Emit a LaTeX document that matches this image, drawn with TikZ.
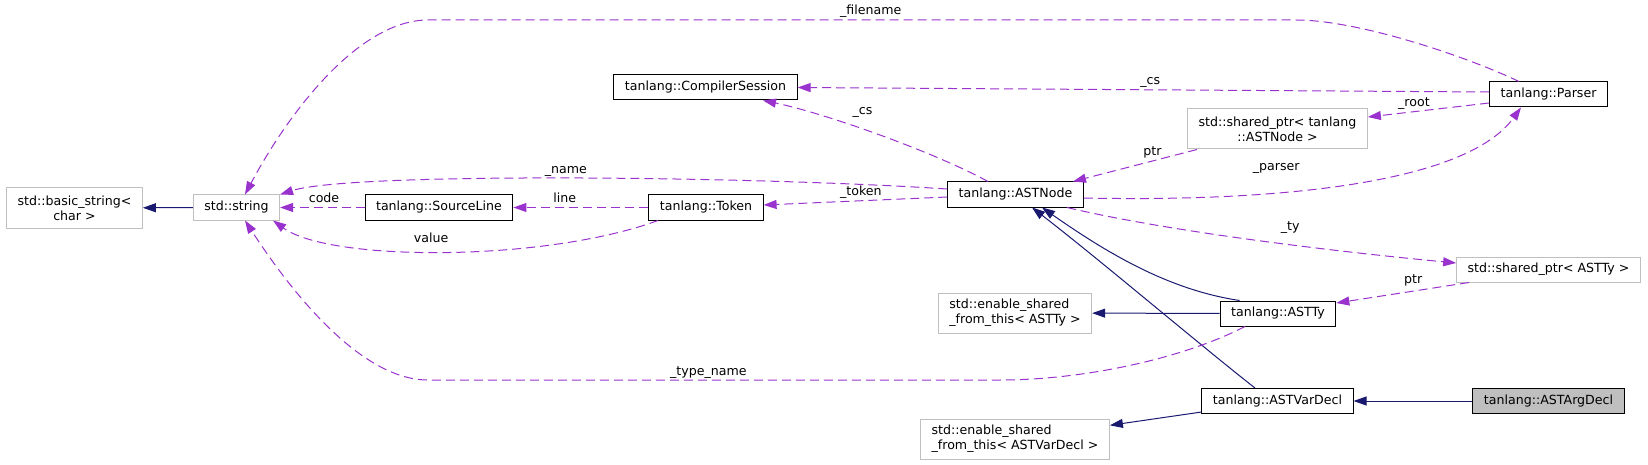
\documentclass[tikz,border=0pt]{standalone}
\usepackage{fontspec}
\setmainfont{DejaVu Sans}
\usetikzlibrary{arrows.meta}
\definecolor{edgepurple}{HTML}{9A32CD}
\definecolor{edgenavy}{HTML}{191970}
\definecolor{lightframe}{HTML}{BFBFBF}

\begin{document}
\begin{tikzpicture}[x=1pt,y=-1pt,>={Triangle[length=13pt,width=9pt]},
        font=\fontsize{12.6}{15}\selectfont,
        cls/.style={draw=black, line width=1pt, fill=white, inner xsep=11pt, inner ysep=0pt, minimum height=25pt},
        ext/.style={cls, draw=lightframe},
        twoline/.style={minimum height=40pt},
        dep/.style={->, draw=edgepurple, line width=1pt, dash pattern=on 9pt off 5pt},
        inh/.style={->, draw=edgenavy, line width=1pt},
        lbl/.style={inner sep=2pt, text height=9pt, text depth=2.5pt}]
        \useasboundingbox (0,0) rectangle (1648,465);

        \node (basicstring) [ext, twoline, align=center] at (74.5,208) {std::basic\_string<\\char >};
        \node (stdstring) [ext] at (236.5,207.5) {std::string};
        \node (sourceline) [cls] at (439,207.5) {tanlang::SourceLine};
        \node (token) [cls] at (706,207.5) {tanlang::Token};
        \node (session) [cls] at (705.5,87.5) {tanlang::CompilerSession};
        \node (astnode) [cls] at (1015.5,194.5) {tanlang::ASTNode};
        \node (parser) [cls] at (1548.5,94.5) {tanlang::Parser};
        \node (rootptr) [ext, twoline, align=center] at (1277.5,129) {std::shared\_ptr< tanlang\\::ASTNode >};
        \node (typtr) [ext] at (1548.5,269.5) {std::shared\_ptr< ASTTy >};
        \node (astty) [cls] at (1278,313.5) {tanlang::ASTTy};
        \node (enablety) [ext, twoline, align=left] at (1015,313) {std::enable\_shared\\\_from\_this< ASTTy >};
        \node (vardecl) [cls] at (1277.5,401) {tanlang::ASTVarDecl};
        \node (argdecl) [cls, fill=lightframe] at (1548.5,401) {tanlang::ASTArgDecl};
        \node (enablevd) [ext, twoline, align=left] at (1015,439) {std::enable\_shared\\\_from\_this< ASTVarDecl >};

        \draw[inh] (stdstring) -- (basicstring);
        \draw[inh] (astty) -- (enablety);
        \draw[inh] (argdecl) -- (vardecl);
        \draw[inh] (vardecl) -- (enablevd);
        \draw[inh] ([xshift=-38.5pt]astty.north) .. controls (1170,290) and (1110,255) .. ([xshift=26.5pt]astnode.south);
        \draw[inh] ([xshift=-22.5pt]vardecl.north) .. controls (1200,345) and (1100,260) .. ([xshift=16.5pt]astnode.south);

        \draw[dep] (sourceline.west) -- node (lcode) [lbl, pos=0.48, above] {code} (stdstring.east);
        \draw[dep] (token.west) -- node (lline) [lbl, pos=0.62, above] {line} (sourceline.east);
        \draw[dep] ([xshift=-48pt]token.south) .. controls (545,262) and (330,262) .. node (lvalue) [lbl, pos=0.53, above=4pt] {value} ([xshift=-7pt]stdstring.south east);
        \draw[dep] ([yshift=-7.5pt]astnode.north west) .. controls (750,176) and (350,172) .. node (lname) [lbl, pos=0.5, above] {\_name} (stdstring.north east);
        \draw[dep] ([yshift=-2.5pt]astnode.west) -- node (ltoken) [lbl, pos=0.47, above] {\_token} ([yshift=2.5pt]token.east);
        \draw[dep] ([xshift=-27.5pt]astnode.north) .. controls (930,150) and (820,112) .. node (lcs) [lbl, pos=0.55, above=10pt] {\_cs} ([xshift=57.5pt]session.south);
        \draw[dep] ([yshift=2.5pt]parser.west) -- node (lcs2) [lbl, pos=0.49, above] {\_cs} (session.east);
        \draw[dep] ([yshift=-8.5pt]parser.west) -- node (lroot) [lbl, pos=0.62, above] {\_root} ([yshift=12pt]rootptr.east);
        \draw[dep] ([xshift=-80.5pt]rootptr.south) -- node (lptr) [lbl, pos=0.36, above=1pt] {ptr} ([xshift=57.5pt]astnode.north);
        \draw[dep] ([yshift=-3.5pt]astnode.east) .. controls (1270,202) and (1465,185) .. node (lparser) [lbl, pos=0.35, above=17pt] {\_parser} ([xshift=-27.5pt]parser.south);
        \draw[dep] ([xshift=51.5pt]astnode.south) .. controls (1170,232) and (1340,252) .. node (lty) [lbl, pos=0.58, above=9pt] {\_ty} ([yshift=6.5pt]typtr.west);
        \draw[dep] ([xshift=-79.5pt]typtr.south) -- node (lptr2) [lbl, pos=0.42, above=3pt] {ptr} ([yshift=10.5pt]astty.east);
        \draw[dep] ([xshift=-29.5pt]parser.north) .. controls (1470,58) and (1360,20) .. (1296,20) -- node (lfilename) [lbl, pos=0.49, above] {\_filename} (428,20) .. controls (360,20) and (290,110) .. ([xshift=8.5pt]stdstring.north);
        \draw[dep] ([xshift=-33pt]astty.south) .. controls (1180,360) and (1080,380) .. (1000,380) -- node (ltypename) [lbl, pos=0.51, above] {\_type\_name} (428,380) .. controls (360,380) and (290,290) .. ([xshift=8.5pt]stdstring.south);
    \end{tikzpicture}
\end{document}
